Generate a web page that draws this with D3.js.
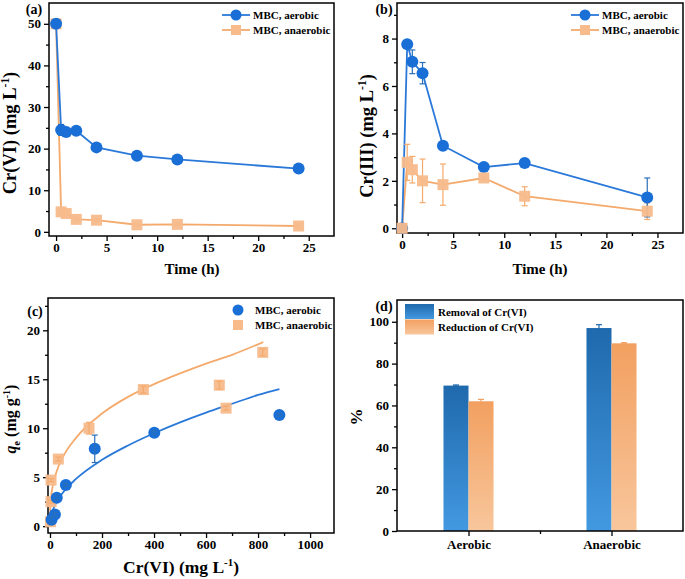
<!DOCTYPE html>
<html><head><meta charset="utf-8">
<script src="https://cdn.jsdelivr.net/npm/d3@7"></script>
<style>
body{margin:0;background:#fff;}
svg{display:block;font-family:"Liberation Serif","Times New Roman",serif;font-weight:bold;}
svg text{font-family:"Liberation Serif","Times New Roman",serif;font-weight:bold;}
</style></head>
<body><svg id="c" width="685" height="579"></svg>
<script>
// ---------- data ----------
const timeH = [0, 0.5, 1, 2, 4, 8, 12, 24];
const crVIAerobic = [50, 24.5, 24.0, 24.3, 20.3, 18.3, 17.4, 15.2];
const crVIAerobicErr = [0.3, 1.3, 0.4, 0.4, 0.3, 0.3, 0.3, 0.3];
const crVIAnaerobic = [50, 4.8, 4.4, 3.0, 2.8, 1.7, 1.8, 1.4];
const crVIAnaerobicErr = [0.3, 0.3, 0.3, 0.5, 0.3, 0.3, 0.3, 0.5];

const crIIIAerobic = [0, 7.76, 7.02, 6.54, 3.48, 2.58, 2.75, 1.3];
const crIIIAerobicErr = [0.05, 0.12, 0.5, 0.45, 0.08, 0.1, 0.08, 0.82];
const crIIIAnaerobic = [0, 2.78, 2.47, 2.0, 1.84, 2.12, 1.35, 0.72];
const crIIIAnaerobicErr = [0.05, 0.76, 0.56, 0.92, 0.87, 0.08, 0.4, 0.35];

const ceAerobic = [6, 19, 26, 61, 172, 401, 882];
const qeAerobic = [0.65, 1.2, 2.9, 4.2, 7.9, 9.55, 11.35];
const qeAerobicErr = [0.3, 0.2, 0.2, 0.15, 1.4, 0.15, 0.15];
const ceAnaerobic = [1.5, 4, 4, 32, 150, 359, 651, 677, 818];
const qeAnaerobic = [0.45, 2.5, 4.7, 6.85, 10.0, 13.95, 14.4, 12.05, 17.75];
const qeAnaerobicErr = [0.3, 0.15, 0.15, 0.2, 0.6, 0.35, 0.4, 0.2, 0.35];
// fitted curves
const fitAerobicC = [0.5, 1, 5, 10, 25, 50, 100, 200, 300, 400, 500, 600, 700, 800, 882];
const fitAerobicQ = [0.36, 0.5, 1.11, 1.56, 2.44, 3.44, 4.82, 6.77, 8.24, 9.49, 10.6, 11.6, 12.5, 13.4, 14.0];
const fitAnaerobicC = [0.2, 1, 5, 10, 25, 50, 100, 200, 300, 400, 500, 600, 700, 820];
const fitAnaerobicQ = [1.0, 1.8, 3.16, 4.03, 5.56, 7.08, 9.02, 11.5, 13.2, 14.5, 15.6, 16.6, 17.5, 18.8];

const barCategories = ["Aerobic", "Anaerobic"];
const removalPct = [69.5, 97.0];
const removalErr = [0.3, 1.6];
const reductionPct = [62.0, 89.7];
const reductionErr = [0.9, 0.3];

const seriesNames = ["MBC, aerobic", "MBC, anaerobic"];
const barSeriesNames = ["Removal of Cr(VI)", "Reduction of Cr(VI)"];

// ---------- styles ----------
const FONT = "Liberation Serif";
const BLUE = "#1a6fd6", BLUE_LINE = "#2a79d9";
const ORANGE = "#f7bb8c", ORANGE_LINE = "#f4aa6c";
const svg = d3.select("#c");

const defs = svg.append("defs");
function grad(id, top, bottom){
  const g = defs.append("linearGradient").attr("id", id).attr("x1",0).attr("y1",0).attr("x2",0).attr("y2",1);
  g.append("stop").attr("offset","0%").attr("stop-color",top);
  g.append("stop").attr("offset","100%").attr("stop-color",bottom);
}
grad("gBlue", "#1f69ad", "#4399e0");
grad("gOrange", "#f2a060", "#f8c69c");

function frame(x, y, opt){
  const g = svg.append("g");
  const [x0,x1] = x.range(), [y0,y1] = y.range();
  g.append("g").attr("transform",`translate(0,${y0})`)
    .call(d3.axisBottom(x).tickValues(opt.xMinor).tickSize(3).tickFormat(""))
    .call(s=>s.select(".domain").remove());
  g.append("g").attr("transform",`translate(${x0},0)`)
    .call(d3.axisLeft(y).tickValues(opt.yMinor).tickSize(3).tickFormat(""))
    .call(s=>s.select(".domain").remove());
  const xa = g.append("g").attr("transform",`translate(0,${y0})`)
    .call(d3.axisBottom(x).tickValues(opt.xTicks).tickSize(5).tickSizeOuter(0).tickPadding(opt.xPad ?? 2).tickFormat(opt.xFmt || d3.format("d")));
  const ya = g.append("g").attr("transform",`translate(${x0},0)`)
    .call(d3.axisLeft(y).tickValues(opt.yTicks).tickSize(5).tickSizeOuter(0).tickPadding(3).tickFormat(d3.format("d")));
  [xa, ya].forEach(a=>{
    a.selectAll("text").attr("font-size", opt.fs || 13).attr("font-family",FONT).attr("font-weight","bold").attr("fill","#000");
    a.select(".domain").remove();
  });
  g.selectAll("line").attr("stroke","#000").attr("stroke-width",1.3);
  g.append("rect").attr("x",x0).attr("y",y1).attr("width",x1-x0).attr("height",y0-y1)
    .attr("fill","none").attr("stroke","#000").attr("stroke-width",1.5);
  return {xa, ya};
}

function errBars(g, xs, ys, es, x, y, color){
  const cap = 3;
  xs.forEach((xv,i)=>{
    const cx = x(xv);
    const t = y(ys[i]+es[i]), b = y(ys[i]-es[i]);
    g.append("line").attr("x1",cx).attr("x2",cx).attr("y1",t).attr("y2",b).attr("stroke",color).attr("stroke-width",1.2);
    g.append("line").attr("x1",cx-cap).attr("x2",cx+cap).attr("y1",t).attr("y2",t).attr("stroke",color).attr("stroke-width",1.2);
    g.append("line").attr("x1",cx-cap).attr("x2",cx+cap).attr("y1",b).attr("y2",b).attr("stroke",color).attr("stroke-width",1.2);
  });
}
function circles(g, xs, ys, x, y){
  g.selectAll(null).data(xs).join("circle").attr("cx",d=>x(d)).attr("cy",(d,i)=>y(ys[i])).attr("r",6).attr("fill",BLUE);
}
function squares(g, xs, ys, x, y){
  const s = 11;
  g.selectAll(null).data(xs).join("rect").attr("x",d=>x(d)-s/2).attr("y",(d,i)=>y(ys[i])-s/2).attr("width",s).attr("height",s).attr("fill",ORANGE).attr("opacity",0.95);
}
function line(g, xs, ys, x, y, color, curve){
  g.append("path").datum(xs).attr("fill","none").attr("stroke",color).attr("stroke-width",1.8)
    .attr("d", d3.line().x(d=>x(d)).y((d,i)=>y(ys[i])).curve(curve||d3.curveLinear));
}
function txt(sel){ return sel.append("text").attr("font-family",FONT).attr("font-weight","bold"); }
function legendLines(x0, y0, withLine){
  const g = svg.append("g");
  [0,1].forEach(i=>{
    const yy = y0 + i*15;
    if(withLine) g.append("line").attr("x1",x0-14).attr("x2",x0+14).attr("y1",yy).attr("y2",yy).attr("stroke",i?ORANGE_LINE:BLUE_LINE).attr("stroke-width",1.8);
    if(i===0) g.append("circle").attr("cx",x0).attr("cy",yy).attr("r",5.5).attr("fill",BLUE);
    else g.append("rect").attr("x",x0-5).attr("y",yy-5).attr("width",10).attr("height",10).attr("fill",ORANGE);
    txt(g).attr("x",x0+17).attr("y",yy+4).attr("font-size",11).text(seriesNames[i]);
  });
}
function label(t, x, y){ txt(svg).attr("x",x).attr("y",y).attr("text-anchor","middle").attr("font-size",14).text(t); }
function yTitle(cx, cy, fs, build){
  const t = txt(svg).attr("transform",`translate(${cx},${cy}) rotate(-90)`).attr("text-anchor","middle").attr("font-size",fs);
  build(t, fs);
}
function xTitle(cx, y, fs, build){
  const t = txt(svg).attr("x",cx).attr("y",y).attr("text-anchor","middle").attr("font-size",fs);
  build(t, fs);
}
function unitsMgL(t, fs){
  t.append("tspan").text(" (mg L");
  t.append("tspan").attr("dy",-fs*0.38).attr("font-size",fs*0.62).text("-1");
  t.append("tspan").attr("dy",fs*0.38).text(")");
}

// ---------- panel a ----------
{
  const x = d3.scaleLinear().domain([-0.7, 27.5]).range([49, 334]);
  const y = d3.scaleLinear().domain([-1, 55]).range([236, 3]);
  frame(x, y, {xTicks:[0,5,10,15,20,25], xMinor:d3.range(2.5,27.5,5), yTicks:[0,10,20,30,40,50], yMinor:d3.range(5,55,10)});
  const g = svg.append("g");
  line(g, timeH, crVIAnaerobic, x, y, ORANGE_LINE);
  line(g, timeH, crVIAerobic, x, y, BLUE_LINE);
  errBars(g, timeH, crVIAerobic, crVIAerobicErr, x, y, "#2a6fb8");
  errBars(g, timeH, crVIAnaerobic, crVIAnaerobicErr, x, y, ORANGE_LINE);
  squares(g, timeH, crVIAnaerobic, x, y);
  circles(g, timeH, crVIAerobic, x, y);
  legendLines(236, 15, true);
  label("(a)", 34, 14);
  yTitle(16, 133, 18.5, (t,fs)=>{ t.append("tspan").text("Cr(VI)"); unitsMgL(t,fs); });
  xTitle(192, 274, 15, t=>t.text("Time (h)"));
}
// ---------- panel b ----------
{
  const x = d3.scaleLinear().domain([-0.5, 27.5]).range([397, 683]);
  const y = d3.scaleLinear().domain([-0.2, 9.5]).range([233, 3]);
  frame(x, y, {xTicks:[0,5,10,15,20,25], xMinor:d3.range(2.5,27.5,5), yTicks:[0,2,4,6,8], yMinor:[1,3,5,7,9]});
  const g = svg.append("g");
  line(g, timeH, crIIIAnaerobic, x, y, ORANGE_LINE);
  line(g, timeH, crIIIAerobic, x, y, BLUE_LINE);
  errBars(g, timeH, crIIIAnaerobic, crIIIAnaerobicErr, x, y, ORANGE_LINE);
  errBars(g, timeH, crIIIAerobic, crIIIAerobicErr, x, y, "#2a6fb8");
  circles(g, timeH, crIIIAerobic, x, y);
  squares(g, timeH, crIIIAnaerobic, x, y);
  legendLines(585, 15, true);
  label("(b)", 384, 14);
  yTitle(373, 136, 18.5, (t,fs)=>{ t.append("tspan").text("Cr(III)"); unitsMgL(t,fs); });
  xTitle(540, 274, 15, t=>t.text("Time (h)"));
}
// ---------- panel c ----------
{
  const x = d3.scaleLinear().domain([-7.7, 1092]).range([48, 334]);
  const y = d3.scaleLinear().domain([-0.7, 23.3]).range([533, 298]);
  frame(x, y, {xTicks:[0,200,400,600,800,1000], xMinor:[100,300,500,700,900], yTicks:[0,5,10,15,20], yMinor:[2.5,7.5,12.5,17.5,22.5]});
  const g = svg.append("g");
  line(g, fitAnaerobicC, fitAnaerobicQ, x, y, ORANGE_LINE, d3.curveMonotoneX);
  line(g, fitAerobicC, fitAerobicQ, x, y, BLUE_LINE, d3.curveMonotoneX);
  squares(g, ceAnaerobic, qeAnaerobic, x, y);
  errBars(g, ceAnaerobic, qeAnaerobic, qeAnaerobicErr, x, y, ORANGE_LINE);
  circles(g, ceAerobic, qeAerobic, x, y);
  errBars(g, ceAerobic, qeAerobic, qeAerobicErr, x, y, "#2a6fb8");
  legendLines(238, 310, false);
  label("(c)", 35, 316);
  yTitle(16, 419, 16, (t,fs)=>{
    t.append("tspan").attr("font-style","italic").text("q");
    t.append("tspan").attr("dy",4).attr("font-size",10).text("e");
    t.append("tspan").attr("dy",-4).text(" (mg g");
    t.append("tspan").attr("dy",-6).attr("font-size",10).text("-1");
    t.append("tspan").attr("dy",6).text(")");
  });
  xTitle(181, 573, 17.5, (t,fs)=>{ t.append("tspan").text("Cr(VI)"); unitsMgL(t,fs); });
}
// ---------- panel d ----------
{
  const x = d3.scaleLinear().domain([0.5, 2.5]).range([397, 683]);
  const y = d3.scaleLinear().domain([0, 110.4]).range([531, 300]);
  const bw = 0.175;
  const g = svg.append("g");
  barCategories.forEach((c,i)=>{
    const pos = i+1;
    g.append("rect").attr("x",x(pos-bw)).attr("width",x(pos)-x(pos-bw)).attr("y",y(removalPct[i])).attr("height",y(0)-y(removalPct[i])).attr("fill","url(#gBlue)");
    g.append("rect").attr("x",x(pos)).attr("width",x(pos+bw)-x(pos)).attr("y",y(reductionPct[i])).attr("height",y(0)-y(reductionPct[i])).attr("fill","url(#gOrange)");
  });
  errBars(g, [1-bw/2, 2-bw/2], removalPct, removalErr, x, y, "#1f69ad");
  errBars(g, [1+bw/2, 2+bw/2], reductionPct, reductionErr, x, y, "#f2a060");
  frame(x, y, {xTicks:[1,2], xMinor:[1.5], yTicks:[0,20,40,60,80,100], yMinor:[10,30,50,70,90], xFmt:d=>barCategories[d-1], xPad:4});
  const lg = svg.append("g");
  ["url(#gBlue)","url(#gOrange)"].forEach((f,i)=>{
    lg.append("rect").attr("x",405).attr("y",304+i*15.5).attr("width",29).attr("height",15).attr("fill",f);
    txt(lg).attr("x",438).attr("y",315.5+i*15.5).attr("font-size",11).text(barSeriesNames[i]);
  });
  label("(d)", 384, 311);
  yTitle(362, 417, 17, t=>t.text("%"));
}
</script></body></html>
